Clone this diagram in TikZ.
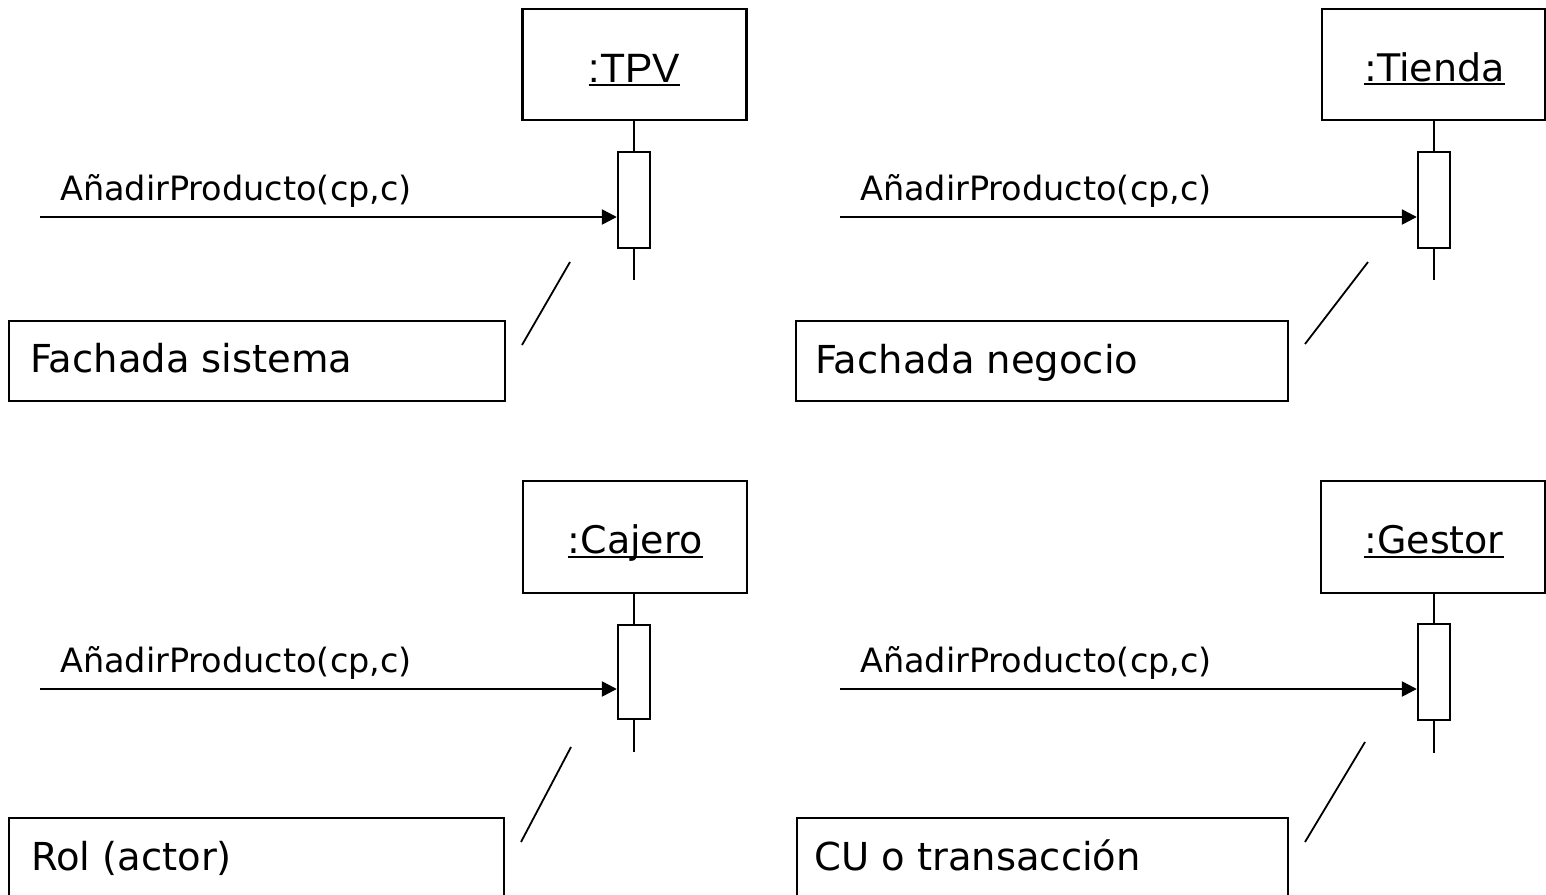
\documentclass[tikz,border=0pt]{standalone}
\usepackage{fontspec}
\setmainfont{DejaVu Sans}
\newfontfamily\arialfont{Liberation Sans}
\usetikzlibrary{arrows.meta}
\tikzset{
  objbox/.style={draw, line width=2.4pt, rectangle, inner sep=0pt, minimum width=224pt, minimum height=111pt},
  actbox/.style={draw, line width=2.4pt, fill=white, rectangle, inner sep=0pt, minimum width=32pt, minimum height=96pt},
  notebox/.style={draw, line width=2.2pt, rectangle, inner sep=0pt, minimum width=496pt, minimum height=80pt},
  hdrtext/.style={anchor=base, inner sep=0pt, font=\fontsize{38}{44}\selectfont},
  msgtext/.style={anchor=base west, inner sep=0pt, font=\fontsize{33.5}{40}\selectfont},
  notetext/.style={anchor=base west, inner sep=0pt, font=\fontsize{38.5}{44}\selectfont},
  lifeline/.style={line width=2pt},
  msgline/.style={line width=2.4pt, -{Triangle[length=15pt, width=15pt]}},
  diagline/.style={line width=1.8pt},
  ulline/.style={line width=2pt}
}
\begin{document}
\begin{tikzpicture}[x=1pt, y=-1pt]
\useasboundingbox (0,0) rectangle (1546,894);
\clip (0,0) rectangle (1546,894);

% ---------- top left: :TPV ----------
\node[objbox] (tpv) at (634.5,64.5) {};
\node[anchor=base, inner sep=0pt, font=\arialfont\fontsize{41}{48}\selectfont] (tpvl) at (634.5,82) {:TPV};
\draw[ulline] ([yshift=-3pt]tpvl.base west) -- ([yshift=-3pt]tpvl.base east);
\node[actbox] (tpva) at (634,200) {};
\coordinate (tpvend) at (634,280);
\draw[lifeline] (tpva.north |- tpv.south) -- (tpva.north);
\draw[lifeline] (tpva.south) -- (tpvend);
\coordinate (tpvsrc) at (40,217);
\draw[msgline] (tpvsrc) -- (tpvsrc -| tpva.west);
\node[msgtext] (tpvmsg) at (60,200) {AñadirProducto(cp,c)};
\node[notebox] (tpvnote) at (257,361) {};
\node[notetext] (tpvnotet) at (30,372) {Fachada sistema};
\coordinate (tpvda) at (570,262);
\coordinate (tpvdb) at (522,345);
\draw[diagline] (tpvda) -- (tpvdb);

% ---------- top right: :Tienda ----------
\node[objbox, minimum width=223pt] (tie) at (1433.5,64.5) {};
\node[hdrtext] (tiel) at (1434.5,81) {:Tienda};
\draw[ulline] ([yshift=-3pt]tiel.base west) -- ([yshift=-3pt]tiel.base east);
\node[actbox] (tiea) at (1434,200) {};
\coordinate (tieend) at (1434,280);
\draw[lifeline] (tiea.north |- tie.south) -- (tiea.north);
\draw[lifeline] (tiea.south) -- (tieend);
\coordinate (tiesrc) at (840,217);
\draw[msgline] (tiesrc) -- (tiesrc -| tiea.west);
\node[msgtext] (tiemsg) at (860,200) {AñadirProducto(cp,c)};
\node[notebox, minimum width=492pt] (tienote) at (1042,361) {};
\node[notetext] (tienotet) at (815,373) {Fachada negocio};
\coordinate (tieda) at (1368,262);
\coordinate (tiedb) at (1305,344);
\draw[diagline] (tieda) -- (tiedb);

% ---------- bottom left: :Cajero ----------
\node[objbox, minimum height=112pt] (caj) at (635,537) {};
\node[hdrtext] (cajl) at (635,553) {:Cajero};
\draw[ulline] ([yshift=-4pt]cajl.base west) -- ([yshift=-4pt]cajl.base east);
\node[actbox, minimum height=94pt] (caja) at (634,672) {};
\coordinate (cajend) at (634,752);
\draw[lifeline] (caja.north |- caj.south) -- (caja.north);
\draw[lifeline] (caja.south) -- (cajend);
\coordinate (cajsrc) at (40,689);
\draw[msgline] (cajsrc) -- (cajsrc -| caja.west);
\node[msgtext] (cajmsg) at (60,672) {AñadirProducto(cp,c)};
\node[notebox, minimum width=495pt] (cajnote) at (256.5,858) {};
\node[notetext] (cajnotet) at (31,870) {Rol (actor)};
\coordinate (cajda) at (571,747);
\coordinate (cajdb) at (521,842);
\draw[diagline] (cajda) -- (cajdb);

% ---------- bottom right: :Gestor ----------
\node[objbox, minimum width=224pt, minimum height=112pt] (ges) at (1433,537) {};
\node[hdrtext] (gesl) at (1434,553) {:Gestor};
\draw[ulline] ([yshift=-4pt]gesl.base west) -- ([yshift=-4pt]gesl.base east);
\node[actbox, minimum height=96pt] (gesa) at (1434,672) {};
\coordinate (gesend) at (1434,753);
\draw[lifeline] (gesa.north |- ges.south) -- (gesa.north);
\draw[lifeline] (gesa.south) -- (gesend);
\coordinate (gessrc) at (840,689);
\draw[msgline] (gessrc) -- (gessrc -| gesa.west);
\node[msgtext] (gesmsg) at (860,672) {AñadirProducto(cp,c)};
\node[notebox, minimum width=491pt] (gesnote) at (1042.5,858) {};
\node[notetext] (gesnotet) at (814,870) {CU o transacción};
\coordinate (gesda) at (1365,742);
\coordinate (gesdb) at (1305,842);
\draw[diagline] (gesda) -- (gesdb);
\end{tikzpicture}
\end{document}
